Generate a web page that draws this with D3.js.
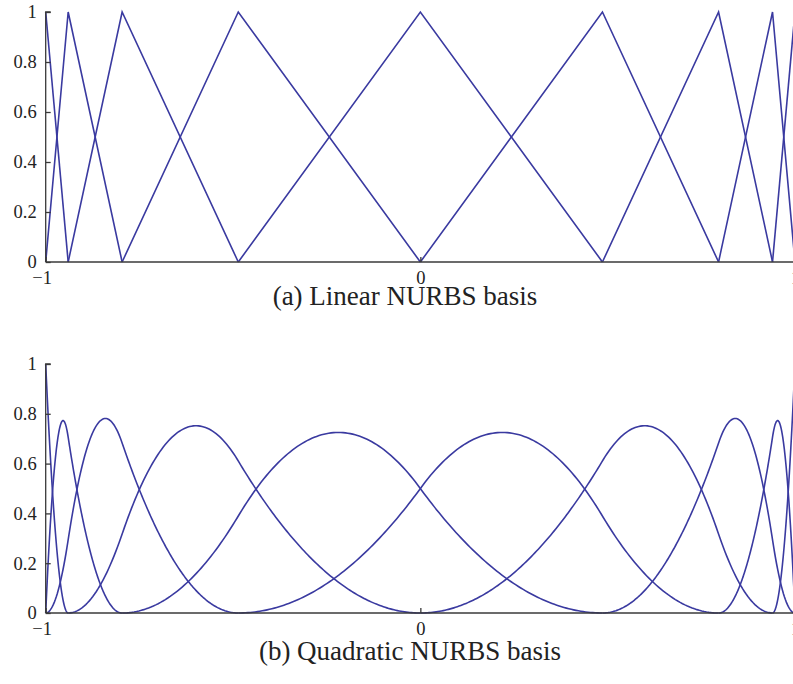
<!DOCTYPE html>
<html><head><meta charset="utf-8">
<script src="https://cdn.jsdelivr.net/npm/d3@7"></script>
<style>body{margin:0;background:#fff}svg{display:block}</style>
</head><body>
<script>
// Interior knots (symmetric about 0)
const interiorKnots = [-0.94, -0.796, -0.486, 0, 0.486, 0.796, 0.94];
const domainX = [-1, 1];
const xTicks = [-1, 0, 1];
const yTicks = [0, 0.2, 0.4, 0.6, 0.8, 1];
const yTickLabels = ["0", "0.2", "0.4", "0.6", "0.8", "1"];
const panelDegrees = [1, 2];
const captions = ["(a) Linear NURBS basis", "(b) Quadratic NURBS basis"];

const W = 793, H = 684;
const svg = d3.select("body").append("svg").attr("width", W).attr("height", H);
const lineColor = "#3a3aa0";
const axisColor = "#3a3a3a";
const font = "Liberation Serif, Times New Roman, serif";

function knotVector(p) {
  return [...Array(p + 1).fill(-1), ...interiorKnots, ...Array(p + 1).fill(1)];
}
// Cox–de Boor evaluation of the basis defined by the knot vector
function basis(i, p, u, T) {
  if (p === 0) {
    if (T[i] <= u && u < T[i + 1]) return 1;
    if (u === 1 && T[i + 1] === 1 && T[i] < 1) return 1;
    return 0;
  }
  let a = 0, b = 0;
  const d1 = T[i + p] - T[i], d2 = T[i + p + 1] - T[i + 1];
  if (d1 > 0) a = (u - T[i]) / d1 * basis(i, p - 1, u, T);
  if (d2 > 0) b = (T[i + p + 1] - u) / d2 * basis(i + 1, p - 1, u, T);
  return a + b;
}

const panels = [
  {top: 12, bottom: 262, capX: 405, capY: 305},
  {top: 364, bottom: 613, capX: 410, capY: 660}
];
const x = d3.scaleLinear().domain(domainX).range([45.7, 795]);

panels.forEach((pn, k) => {
  const p = panelDegrees[k];
  const T = knotVector(p);
  const y = d3.scaleLinear().domain([0, 1]).range([pn.bottom, pn.top]);
  const g = svg.append("g");
  const nb = T.length - p - 1;
  const line = d3.line().x(d => x(d[0])).y(d => y(d[1]));
  for (let i = 0; i < nb; i++) {
    const lo = T[i], hi = T[i + p + 1];
    let us = [];
    if (p === 1) {
      us = [lo, T[i + 1], hi];
    } else {
      const n = 200;
      for (let j = 0; j <= n; j++) us.push(lo + (hi - lo) * j / n);
    }
    const pts = us.map(u => [u, basis(i, p, u, T)]);
    g.append("path").attr("d", line(pts)).attr("fill", "none")
      .attr("stroke", lineColor).attr("stroke-width", 1.6).attr("stroke-linejoin", "miter");
  }
  // y axis (ticks inward)
  const ya = d3.axisRight(y).tickValues(yTicks).tickSize(5)
    .tickFormat((d, i) => yTickLabels[i]);
  const yg = g.append("g").attr("transform", `translate(${x(-1)},0)`).call(ya);
  yg.attr("font-family", null).attr("font-size", null);
  yg.select(".domain").attr("d", `M5,${pn.top}H0V${pn.bottom}`).attr("stroke", axisColor).attr("stroke-width", 1.3);
  yg.selectAll(".tick line").attr("stroke", axisColor).attr("stroke-width", 1.3);
  yg.selectAll(".tick text").attr("x", -9).attr("text-anchor", "end").attr("dy", "0.32em")
    .attr("font-family", font).attr("font-size", "18.5px").attr("fill", "#222");
  // x axis (ticks inward)
  const xa = d3.axisTop(x).tickValues(xTicks).tickSize(5).tickFormat(d => d === -1 ? "\u22121" : String(d));
  const xg = g.append("g").attr("transform", `translate(0,${pn.bottom})`).call(xa);
  xg.attr("font-family", null).attr("font-size", null);
  xg.select(".domain").attr("d", `M${x(-1)},0H${x(1)}`).attr("stroke", axisColor).attr("stroke-width", 1.3);
  xg.selectAll(".tick line").attr("stroke", axisColor).attr("stroke-width", 1.3);
  xg.selectAll(".tick text").attr("y", 22).attr("dy", 0).attr("dx", d => d === -1 ? -4 : 0)
    .attr("font-family", font).attr("font-size", "18.5px").attr("fill", "#222");
  svg.append("text").attr("x", pn.capX).attr("y", pn.capY).attr("text-anchor", "middle")
    .attr("font-family", font).attr("font-size", "27px").attr("fill", "#222").text(captions[k]);
});
</script>
</body></html>
